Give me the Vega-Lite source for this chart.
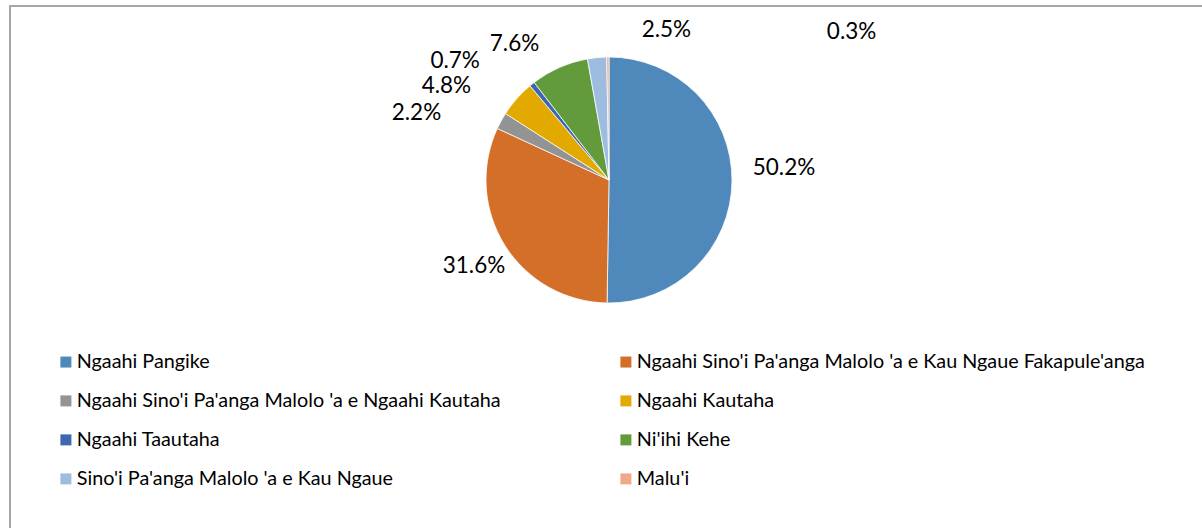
{
  "$schema": "https://vega.github.io/schema/vega-lite/v6.json",
  "width": 1198,
  "height": 530,
  "autosize": {"type": "none"},
  "padding": {"left": 10, "top": 6, "right": 0, "bottom": 0},
  "background": "white",
  "view": {"stroke": "#a6a6a6", "strokeWidth": 2, "fill": "white"},
  "config": {
    "view": {"stroke": "#a6a6a6", "strokeWidth": 2},
    "text": {"font": "Lato", "fontSize": 22.5, "fill": "black", "align": "center", "baseline": "middle"}
  },
  "data": {
    "values": [
      {"cat": "Ngaahi Pangike", "pct": 0.502, "ord": 1},
      {"cat": "Ngaahi Sino'i Pa'anga Malolo 'a e Kau Ngaue Fakapule'anga", "pct": 0.316, "ord": 2},
      {"cat": "Ngaahi Sino'i Pa'anga Malolo 'a e Ngaahi Kautaha", "pct": 0.022, "ord": 3},
      {"cat": "Ngaahi Kautaha", "pct": 0.048, "ord": 4},
      {"cat": "Ngaahi Taautaha", "pct": 0.007, "ord": 5},
      {"cat": "Ni'ihi Kehe", "pct": 0.076, "ord": 6},
      {"cat": "Sino'i Pa'anga Malolo 'a e Kau Ngaue", "pct": 0.025, "ord": 7},
      {"cat": "Malu'i", "pct": 0.003, "ord": 8}
    ]
  },
  "layer": [
    {
      "mark": {"type": "arc", "stroke": "white", "strokeWidth": 0.75, "y": 174, "radius": 123},
      "encoding": {
        "theta": {"field": "pct", "type": "quantitative", "stack": true},
        "order": {"field": "ord", "type": "quantitative"},
        "color": {
          "field": "cat",
          "type": "nominal",
          "sort": null,
          "scale": {
            "domain": ["Ngaahi Pangike", "Ngaahi Sino'i Pa'anga Malolo 'a e Kau Ngaue Fakapule'anga", "Ngaahi Sino'i Pa'anga Malolo 'a e Ngaahi Kautaha", "Ngaahi Kautaha", "Ngaahi Taautaha", "Ni'ihi Kehe", "Sino'i Pa'anga Malolo 'a e Kau Ngaue", "Malu'i"],
            "range": ["#4F88BB", "#D46F2A", "#939393", "#E2AA00", "#3D67B1", "#629A3C", "#9DBCE0", "#F0A88A"]
          },
          "legend": {
            "title": null,
            "orient": "none",
            "legendX": 46,
            "legendY": 346,
            "columns": 2,
            "direction": "horizontal",
            "columnPadding": 115,
            "rowPadding": 18,
            "symbolType": "square",
            "symbolSize": 121,
            "symbolStrokeWidth": 0,
            "labelOffset": 1,
            "labelFont": "Lato",
            "labelFontSize": 19.8,
            "labelColor": "black",
            "labelLimit": 800
          }
        }
      }
    },
    {
      "mark": {"type": "text", "y": 174, "radius": 150, "dx": 25, "dy": -13},
      "encoding": {
        "theta": {"field": "pct", "type": "quantitative", "stack": true},
        "order": {"field": "ord", "type": "quantitative"},
        "detail": {"field": "cat", "type": "nominal"},
        "text": {"condition": {"test": "datum.ord === 1", "field": "pct", "type": "quantitative", "format": ".1%"}, "value": ""}
      }
    },
    {
      "mark": {"type": "text", "y": 174, "radius": 150, "dx": -8, "dy": 6},
      "encoding": {
        "theta": {"field": "pct", "type": "quantitative", "stack": true},
        "order": {"field": "ord", "type": "quantitative"},
        "detail": {"field": "cat", "type": "nominal"},
        "text": {"condition": {"test": "datum.ord === 2", "field": "pct", "type": "quantitative", "format": ".1%"}, "value": ""}
      }
    },
    {
      "mark": {"type": "text", "y": 174, "radius": 150, "dx": -61, "dy": 5},
      "encoding": {
        "theta": {"field": "pct", "type": "quantitative", "stack": true},
        "order": {"field": "ord", "type": "quantitative"},
        "detail": {"field": "cat", "type": "nominal"},
        "text": {"condition": {"test": "datum.ord === 3", "field": "pct", "type": "quantitative", "format": ".1%"}, "value": ""}
      }
    },
    {
      "mark": {"type": "text", "y": 174, "radius": 150, "dx": -50, "dy": 5},
      "encoding": {
        "theta": {"field": "pct", "type": "quantitative", "stack": true},
        "order": {"field": "ord", "type": "quantitative"},
        "detail": {"field": "cat", "type": "nominal"},
        "text": {"condition": {"test": "datum.ord === 4", "field": "pct", "type": "quantitative", "format": ".1%"}, "value": ""}
      }
    },
    {
      "mark": {"type": "text", "y": 174, "radius": 150, "dx": -60, "dy": -2},
      "encoding": {
        "theta": {"field": "pct", "type": "quantitative", "stack": true},
        "order": {"field": "ord", "type": "quantitative"},
        "detail": {"field": "cat", "type": "nominal"},
        "text": {"condition": {"test": "datum.ord === 5", "field": "pct", "type": "quantitative", "format": ".1%"}, "value": ""}
      }
    },
    {
      "mark": {"type": "text", "y": 174, "radius": 150, "dx": -34, "dy": 1},
      "encoding": {
        "theta": {"field": "pct", "type": "quantitative", "stack": true},
        "order": {"field": "ord", "type": "quantitative"},
        "detail": {"field": "cat", "type": "nominal"},
        "text": {"condition": {"test": "datum.ord === 6", "field": "pct", "type": "quantitative", "format": ".1%"}, "value": ""}
      }
    },
    {
      "mark": {"type": "text", "y": 174, "radius": 150, "dx": 72, "dy": -1},
      "encoding": {
        "theta": {"field": "pct", "type": "quantitative", "stack": true},
        "order": {"field": "ord", "type": "quantitative"},
        "detail": {"field": "cat", "type": "nominal"},
        "text": {"condition": {"test": "datum.ord === 7", "field": "pct", "type": "quantitative", "format": ".1%"}, "value": ""}
      }
    },
    {
      "mark": {"type": "text", "y": 174, "radius": 150, "dx": 244, "dy": 2},
      "encoding": {
        "theta": {"field": "pct", "type": "quantitative", "stack": true},
        "order": {"field": "ord", "type": "quantitative"},
        "detail": {"field": "cat", "type": "nominal"},
        "text": {"condition": {"test": "datum.ord === 8", "field": "pct", "type": "quantitative", "format": ".1%"}, "value": ""}
      }
    }
  ]
}
